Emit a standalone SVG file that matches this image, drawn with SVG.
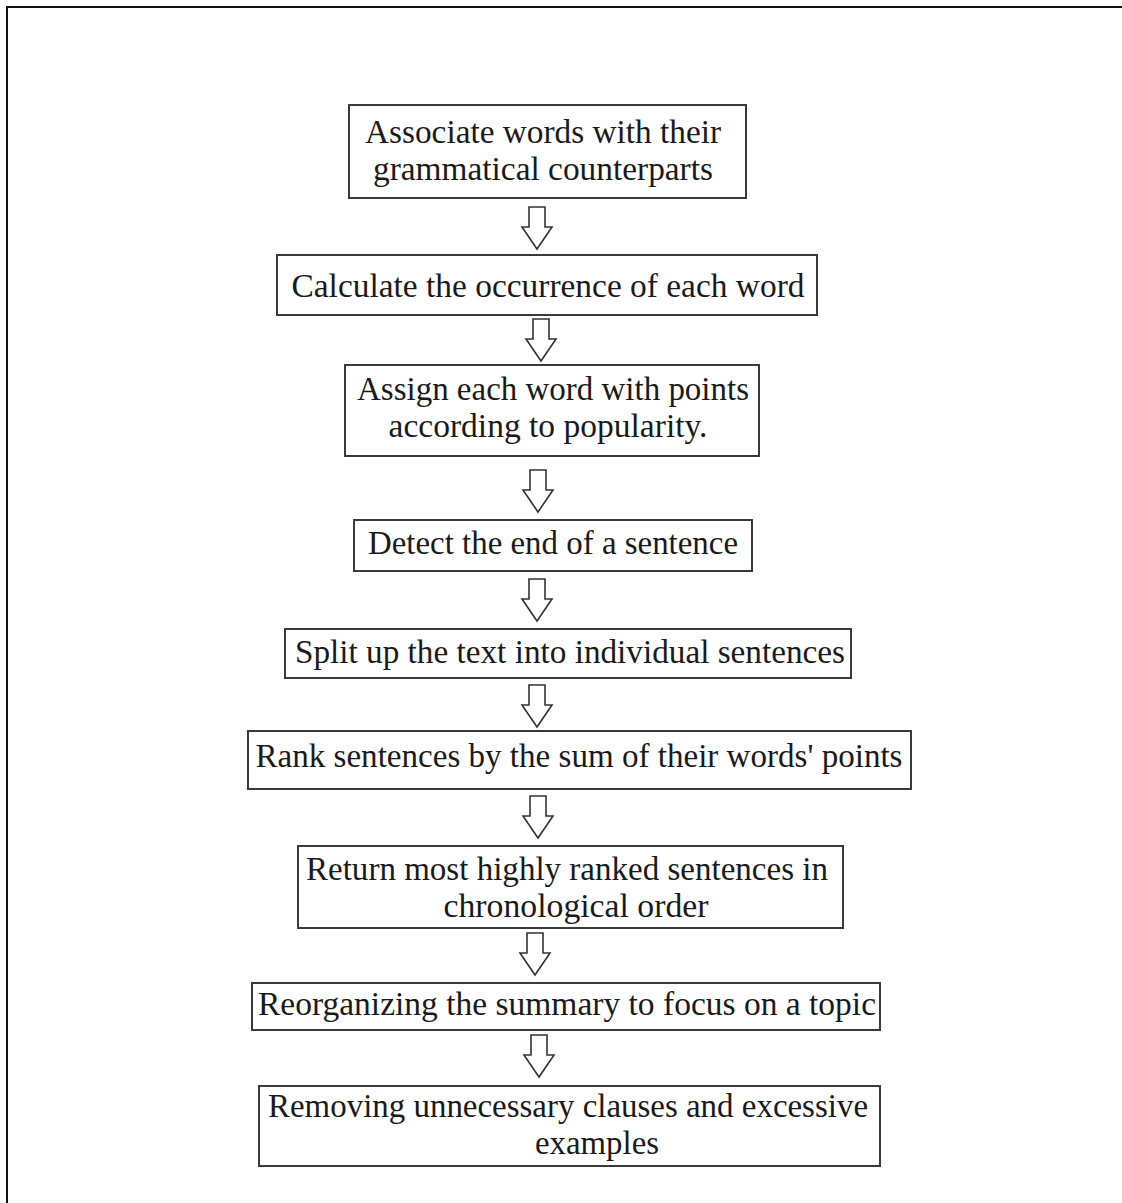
<svg xmlns="http://www.w3.org/2000/svg" width="1122" height="1203" viewBox="0 0 1122 1203">
  <style>
    .box { fill: #ffffff; stroke: #3a3a3a; stroke-width: 2; }
    .lbl { font-family: "Liberation Serif", "Times New Roman", serif; font-size: 34px; fill: #1a1a1a; text-anchor: middle; }
    .arr { fill: #ffffff; stroke: #333333; stroke-width: 1.6; stroke-linejoin: miter; }
    .frame { stroke: #111111; stroke-width: 2; fill: none; }
  </style>
  <defs>
    <!-- hollow block arrow pointing down, origin at top centre -->
    <path id="down" d="M -8 0 H 8 V 20 H 15 L 0 42 L -15 20 H -8 Z"/>
  </defs>
  <rect width="1122" height="1203" fill="#ffffff"/>
  <!-- page frame (top and left edges) -->
  <path class="frame" d="M 7 1203 V 7 H 1122"/>

  <g id="connectors">
    <use href="#down" class="arr" x="537" y="207"/>
    <use href="#down" class="arr" x="541" y="319"/>
    <use href="#down" class="arr" x="538" y="470"/>
    <use href="#down" class="arr" x="537" y="579"/>
    <use href="#down" class="arr" x="537" y="685"/>
    <use href="#down" class="arr" x="538" y="796"/>
    <use href="#down" class="arr" x="535" y="933"/>
    <use href="#down" class="arr" x="539" y="1035"/>
  </g>

  <g id="n1">
    <rect class="box" x="349" y="105" width="397" height="93"/>
    <text class="lbl" x="543" y="143" textLength="356" lengthAdjust="spacingAndGlyphs">Associate words with their</text>
    <text class="lbl" x="543" y="180" textLength="340" lengthAdjust="spacingAndGlyphs">grammatical counterparts</text>
  </g>
  <g id="n2">
    <rect class="box" x="277" y="255" width="540" height="60"/>
    <text class="lbl" x="548" y="297" textLength="513" lengthAdjust="spacingAndGlyphs">Calculate the occurrence of each word</text>
  </g>
  <g id="n3">
    <rect class="box" x="345" y="365" width="414" height="91"/>
    <text class="lbl" x="553" y="400" textLength="392" lengthAdjust="spacingAndGlyphs">Assign each word with points</text>
    <text class="lbl" x="548" y="437" textLength="319" lengthAdjust="spacingAndGlyphs">according to popularity.</text>
  </g>
  <g id="n4">
    <rect class="box" x="354" y="520" width="398" height="51"/>
    <text class="lbl" x="553" y="554" textLength="370" lengthAdjust="spacingAndGlyphs">Detect the end of a sentence</text>
  </g>
  <g id="n5">
    <rect class="box" x="285" y="629" width="566" height="49"/>
    <text class="lbl" x="570" y="663" textLength="550" lengthAdjust="spacingAndGlyphs">Split up the text into individual sentences</text>
  </g>
  <g id="n6">
    <rect class="box" x="248" y="731" width="663" height="58"/>
    <text class="lbl" x="579" y="767" textLength="647" lengthAdjust="spacingAndGlyphs">Rank sentences by the sum of their words' points</text>
  </g>
  <g id="n7">
    <rect class="box" x="298" y="846" width="545" height="82"/>
    <text class="lbl" x="567" y="880" textLength="522" lengthAdjust="spacingAndGlyphs">Return most highly ranked sentences in</text>
    <text class="lbl" x="576" y="917" textLength="265" lengthAdjust="spacingAndGlyphs">chronological order</text>
  </g>
  <g id="n8">
    <rect class="box" x="252" y="983" width="628" height="47"/>
    <text class="lbl" x="567" y="1015" textLength="618" lengthAdjust="spacingAndGlyphs">Reorganizing the summary to focus on a topic</text>
  </g>
  <g id="n9">
    <rect class="box" x="259" y="1086" width="621" height="80"/>
    <text class="lbl" x="568" y="1117" textLength="600" lengthAdjust="spacingAndGlyphs">Removing unnecessary clauses and excessive</text>
    <text class="lbl" x="597" y="1154" textLength="124" lengthAdjust="spacingAndGlyphs">examples</text>
  </g>
</svg>
